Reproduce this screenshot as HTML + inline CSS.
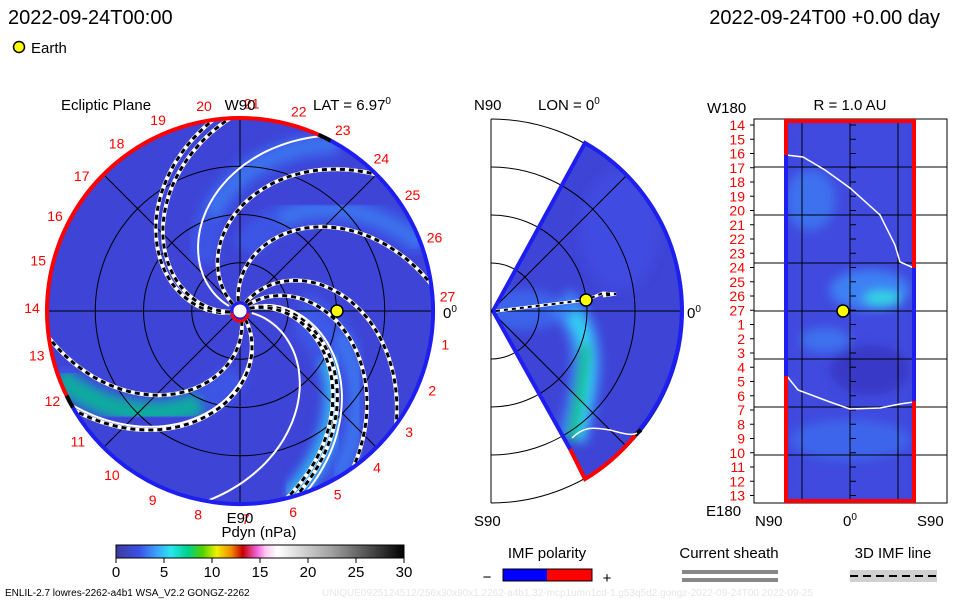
<!DOCTYPE html>
<html><head><meta charset="utf-8">
<style>
html,body{margin:0;padding:0;background:#fff;}
svg{display:block;font-family:"Liberation Sans",sans-serif;}
</style></head>
<body>
<svg id="chart" width="960" height="600" viewBox="0 0 960 600">
<defs>
  <clipPath id="eclClip"><circle cx="240" cy="311" r="193"/></clipPath>
  <clipPath id="wedgeClip"><path d="M491,311 L585,143 A192,192 0 0 1 585,479 Z"/></clipPath>
  <clipPath id="rectClip"><rect x="786" y="121" width="128" height="380"/></clipPath>
  <linearGradient id="cbar" x1="0" x2="1" y1="0" y2="0">
    <stop offset="0" stop-color="#3c3c9c"/>
    <stop offset="0.08" stop-color="#3c50e6"/>
    <stop offset="0.14" stop-color="#3ca0f8"/>
    <stop offset="0.19" stop-color="#28e6f0"/>
    <stop offset="0.25" stop-color="#00d28c"/>
    <stop offset="0.3" stop-color="#50d200"/>
    <stop offset="0.35" stop-color="#f0f000"/>
    <stop offset="0.4" stop-color="#f08c00"/>
    <stop offset="0.44" stop-color="#c80000"/>
    <stop offset="0.49" stop-color="#f064dc"/>
    <stop offset="0.52" stop-color="#ffc8f0"/>
    <stop offset="0.56" stop-color="#ffffff"/>
    <stop offset="0.75" stop-color="#a0a0a0"/>
    <stop offset="1" stop-color="#000000"/>
  </linearGradient>
  <filter id="blur"><feGaussianBlur stdDeviation="5"/></filter>
</defs>

<text x="8" y="24" font-size="20">2022-09-24T00:00</text>
<text x="940" y="24" font-size="20" text-anchor="end">2022-09-24T00 +0.00 day</text>
<circle cx="19" cy="47" r="5.5" fill="#ffff00" stroke="#000" stroke-width="1.5"/>
<text x="31" y="53" font-size="15">Earth</text>

<g id="ecl">
  <circle cx="240" cy="311" r="193" fill="#3e44d6"/>
  <g id="eclBands" clip-path="url(#eclClip)"></g>
  <g id="eclGrid"></g>
  <g id="eclSpirals" clip-path="url(#eclClip)"></g>
  <g id="eclBorder"></g>
  <circle cx="240" cy="311" r="8" fill="#fff" stroke="#1e1ef0" stroke-width="3"/>
  <path d="M232,313 A8,8 0 0 0 248,313" fill="none" stroke="#f00" stroke-width="3"/>
  <circle cx="337" cy="311" r="6" fill="#ffff00" stroke="#000" stroke-width="1.5"/>
  <g id="eclLabels" font-size="14" fill="#f00"></g>
  <text x="61" y="110" font-size="15">Ecliptic Plane</text>
  <text x="240" y="110" font-size="15" text-anchor="middle">W90</text>
  <text x="313" y="110" font-size="15">LAT = 6.97<tspan font-size="10" dy="-6">0</tspan></text>
  <text x="443" y="318" font-size="15">0<tspan font-size="10" dy="-6">0</tspan></text>
  <text x="240" y="523" font-size="15" text-anchor="middle">E90</text>
</g>

<g id="mer">
  <line x1="491" y1="119" x2="491" y2="503" stroke="#000" stroke-width="1"/>
  <g id="merArcs"></g>
  <path d="M491,311 L585,143 A192,192 0 0 1 585,479 Z" fill="#3e44d6"/>
  <g clip-path="url(#wedgeClip)" filter="url(#blur)">
    <ellipse cx="525" cy="310" rx="40" ry="20" fill="#3c6cf0" opacity="0.8"/>
    <path d="M560,300 C595,330 590,380 572,440" stroke="#3c80f4" stroke-width="30" fill="none"/>
    <path d="M572,315 C595,340 588,385 575,440" stroke="#30d0f0" stroke-width="14" fill="none"/>
    <path d="M585,345 C585,370 577,400 572,440" stroke="#00c070" stroke-width="9" fill="none"/>
    <ellipse cx="620" cy="230" rx="40" ry="60" fill="#4050e8" opacity="0.6"/>
  </g>
  <g id="merGrid" clip-path="url(#wedgeClip)"></g>
  <line x1="491" y1="311" x2="683" y2="311" stroke="#000" stroke-width="1"/>
  <path d="M493,311 L585,143 A192,192 0 0 1 637,433" fill="none" stroke="#1e1ef0" stroke-width="4"/>
  <path d="M637,433 A192,192 0 0 1 585,479 L570,449" fill="none" stroke="#f00" stroke-width="4"/>
  <path d="M635,435 L641,430" stroke="#000" stroke-width="4"/>
  <path d="M570,449 L493,311" fill="none" stroke="#1e1ef0" stroke-width="4"/>
  <path d="M572,438 C585,425 595,428 610,430 C625,434 632,436 637,433" fill="none" stroke="#fff" stroke-width="1.5"/>
  <path d="M496,311 L586,300 L603,293 L616,294 L603,296" fill="none" stroke="#fff" stroke-width="3"/>
  <path d="M496,311 L586,300 L603,293 L616,294 L603,296" fill="none" stroke="#000" stroke-width="2" stroke-dasharray="4,4"/>
  <circle cx="586" cy="300" r="6" fill="#ffff00" stroke="#000" stroke-width="1.5"/>
  <text x="474" y="110" font-size="15">N90</text>
  <text x="538" y="110" font-size="15">LON = 0<tspan font-size="10" dy="-6">0</tspan></text>
  <text x="687" y="318" font-size="15">0<tspan font-size="10" dy="-6">0</tspan></text>
  <text x="474" y="526" font-size="15">S90</text>
</g>

<g id="rpan">
  <rect x="754" y="119" width="193" height="384" fill="#fff" stroke="#000" stroke-width="1"/>
  <rect x="786" y="121" width="128" height="380" fill="#3e44d6"/>
  <g clip-path="url(#rectClip)" filter="url(#blur)">
    <rect x="786" y="121" width="128" height="380" fill="#3f50ea" opacity="0.5"/>
    <ellipse cx="810" cy="200" rx="25" ry="30" fill="#3c80f4" opacity="0.7"/>
    <ellipse cx="870" cy="290" rx="40" ry="20" fill="#3c80f4"/>
    <ellipse cx="882" cy="298" rx="18" ry="7" fill="#30d8e0"/>
    <ellipse cx="825" cy="340" rx="25" ry="12" fill="#3c80f4" opacity="0.7"/>
    <ellipse cx="850" cy="440" rx="60" ry="20" fill="#3c70f0" opacity="0.7"/>
    <ellipse cx="870" cy="370" rx="40" ry="25" fill="#3636c0" opacity="0.8"/>
  </g>
  <g id="rGrid"></g>
  <polyline points="786,155 803,157 825,170 850,188 880,215 895,245 900,262 914,268" fill="none" stroke="#fff" stroke-width="1.5"/>
  <polyline points="786,375 798,390 830,402 850,409 880,408 900,404 914,402" fill="none" stroke="#fff" stroke-width="1.5"/>
  <line x1="786" y1="119" x2="786" y2="155" stroke="#f00" stroke-width="4"/>
  <line x1="786" y1="155" x2="786" y2="376" stroke="#1e1ef0" stroke-width="4"/>
  <line x1="786" y1="376" x2="786" y2="503" stroke="#f00" stroke-width="4"/>
  <line x1="914" y1="119" x2="914" y2="268" stroke="#f00" stroke-width="4"/>
  <line x1="914" y1="268" x2="914" y2="401" stroke="#1e1ef0" stroke-width="4"/>
  <line x1="914" y1="401" x2="914" y2="503" stroke="#f00" stroke-width="4"/>
  <line x1="784" y1="121" x2="916" y2="121" stroke="#f00" stroke-width="4"/>
  <line x1="784" y1="501" x2="916" y2="501" stroke="#f00" stroke-width="4"/>
  <circle cx="843" cy="311" r="6" fill="#ffff00" stroke="#000" stroke-width="1.5"/>
  <g id="rLabels" font-size="14" fill="#f00"></g>
  <text x="707" y="113" font-size="15">W180</text>
  <text x="850" y="110" font-size="15" text-anchor="middle">R = 1.0 AU</text>
  <text x="706" y="516" font-size="15">E180</text>
  <text x="755" y="526" font-size="15">N90</text>
  <text x="850" y="526" font-size="15" text-anchor="middle">0<tspan font-size="10" dy="-6">0</tspan></text>
  <text x="917" y="526" font-size="15">S90</text>
</g>

<g id="cb">
  <text x="259" y="537" font-size="15" text-anchor="middle">Pdyn (nPa)</text>
  <rect x="116" y="545" width="288" height="13" fill="url(#cbar)" stroke="#000" stroke-width="1"/>
  <g id="cbTicks"></g>
</g>

<text x="547" y="558" font-size="15" text-anchor="middle">IMF polarity</text>
<text x="487" y="582" font-size="15" text-anchor="middle">−</text>
<rect x="503" y="569" width="44" height="12" fill="#0000ff"/>
<rect x="547" y="569" width="45" height="12" fill="#ff0000"/>
<rect x="503" y="569" width="89" height="12" fill="none" stroke="#000" stroke-width="1"/>
<text x="607" y="583" font-size="15" text-anchor="middle">+</text>

<text x="729" y="558" font-size="15" text-anchor="middle">Current sheath</text>
<rect x="682" y="570" width="96" height="4" fill="#888"/>
<rect x="682" y="578" width="96" height="4" fill="#888"/>

<text x="893" y="558" font-size="15" text-anchor="middle">3D IMF line</text>
<rect x="850" y="570" width="87" height="12" fill="#d0d0d0"/>
<line x1="850" y1="576" x2="937" y2="576" stroke="#000" stroke-width="2" stroke-dasharray="8,5"/>

<text x="5" y="596" font-size="10">ENLIL-2.7 lowres-2262-a4b1 WSA_V2.2 GONGZ-2262</text>
<text x="322" y="596" font-size="10" fill="#e6e6e6">UNIQUE0925124512/256x30x90x1.2262-a4b1.32-mcp1umn1cd-1.g53q5d2.gongz-2022-09-24T00   2022-09-25</text>

<script>
const spiralEndAngles = [-98, -93, -45, -8, 36, 54, 73, 76, 149, 172];
const sheathEndAngles = [-65, 70, 151, 100];
const bandEndAngles = [-60, -20, 60, 75, 160];
const bandLevels = [1, 1, 1, 2, 3];
const ringRadiiAU = [0.5, 1.0, 1.5, 2.0];
const carringtonLabels = ["27","1","2","3","4","5","6","7","8","9","10","11","12","13","14","15","16","17","18","19","20","21","22","23","24","25","26"];
const cbTickValues = [0, 5, 10, 15, 20, 25, 30];
const rLabels = ["14","15","16","17","18","19","20","21","22","23","24","25","26","27","1","2","3","4","5","6","7","8","9","10","11","12","13"];

const NS = "http://www.w3.org/2000/svg";
function mk(tag, attrs, parent) {
  const e = document.createElementNS(NS, tag);
  for (const k in attrs) e.setAttribute(k, attrs[k]);
  parent.appendChild(e);
  return e;
}
const CX = 240, CY = 311, R = 193;
const rScale = au => au / 2.0 * R;
function spiralPath(endDeg, rmin) {
  let d = "";
  for (let r = rmin; r <= R + 2; r += 3) {
    const a = (endDeg - 0.5 * (R - r)) * Math.PI / 180;
    d += (d ? "L" : "M") + (CX + r * Math.cos(a)).toFixed(1) + "," + (CY + r * Math.sin(a)).toFixed(1);
  }
  return d;
}

const bands = document.getElementById("eclBands");
const bandColors = {1: "#3c80f0", 2: "#30d0f0", 3: "#00c888"};
bandEndAngles.forEach((a, i) => {
  const p = mk("path", {d: spiralPath(a, 60), fill: "none", stroke: "#3c60ee", "stroke-width": 30, opacity: 0.6, filter: "url(#blur)"}, bands);
  
  
  const q = mk("path", {d: spiralPath(a, 100), fill: "none", stroke: bandColors[bandLevels[i]], "stroke-width": 10 + 4 * bandLevels[i], opacity: 0.75, filter: "url(#blur)"}, bands);
  
  
});

const grid = document.getElementById("eclGrid");
ringRadiiAU.slice(0, 3).forEach(au => {
  const c = mk("circle", {cx: CX, cy: CY, r: rScale(au), fill: "none", stroke: "#000", "stroke-width": 1}, grid);
  
  
});
[0, 45, 90, 135].forEach(deg => {
  const a = deg * Math.PI / 180;
  const l = mk("line", {x1: CX - R * Math.cos(a), y1: CY - R * Math.sin(a), x2: CX + R * Math.cos(a), y2: CY + R * Math.sin(a), stroke: "#000", "stroke-width": 1}, grid);
  
  
});

const sp = document.getElementById("eclSpirals");
sheathEndAngles.forEach(a => {
  const p = mk("path", {d: spiralPath(a, 12), fill: "none", stroke: "#fff", "stroke-width": 2}, sp);
  
  
});
spiralEndAngles.forEach(a => {
  const w = mk("path", {d: spiralPath(a, 10), fill: "none", stroke: "#fff", "stroke-width": 4}, sp);
  
  
  const b = mk("path", {d: spiralPath(a, 10), fill: "none", stroke: "#000", "stroke-width": 3, "stroke-dasharray": "5,4"}, sp);
  
  
});

const bd = document.getElementById("eclBorder");
function arc(a0, a1, r) {
  const p0 = [CX + r * Math.cos(a0 * Math.PI / 180), CY + r * Math.sin(a0 * Math.PI / 180)];
  const p1 = [CX + r * Math.cos(a1 * Math.PI / 180), CY + r * Math.sin(a1 * Math.PI / 180)];
  const large = (a1 - a0) > 180 ? 1 : 0;
  return `M${p0[0]},${p0[1]} A${r},${r} 0 ${large} 1 ${p1[0]},${p1[1]}`;
}
const redArc = mk("path", {d: arc(152, 296, R), fill: "none", stroke: "#f00", "stroke-width": 4}, bd);


const blueArc = mk("path", {d: arc(-64, 152, R), fill: "none", stroke: "#1e1ef0", "stroke-width": 4}, bd);


[-64, 152].forEach(a => {
  const m = mk("path", {d: arc(a - 2, a + 2, R), fill: "none", stroke: "#000", "stroke-width": 4}, bd);
  
  
});

const lab = document.getElementById("eclLabels");
carringtonLabels.forEach((t, i) => {
  const a = (-4 + i * (360 / 27.27)) * Math.PI / 180;
  const rr = R + 15;
  const e = mk("text", {x: (CX + rr * Math.cos(a)).toFixed(1), y: (CY + rr * Math.sin(a) + 5).toFixed(1), "text-anchor": "middle"}, lab);
  e.textContent = t;
  
  
});

const MX = 491, MY = 311, MR = 192;
const merArcs = document.getElementById("merArcs");
const merGrid = document.getElementById("merGrid");
ringRadiiAU.forEach(au => {
  const r = au / 2.0 * MR;
  const a = mk("path", {d: `M${MX},${MY - r} A${r},${r} 0 0 1 ${MX},${MY + r}`, fill: "none", stroke: "#000", "stroke-width": 1}, merArcs);
  
  
  const b = mk("path", {d: `M${MX},${MY - r} A${r},${r} 0 0 1 ${MX},${MY + r}`, fill: "none", stroke: "#000", "stroke-width": 1}, merGrid);
  
  
});
[-45, 45].forEach(deg => {
  const a = deg * Math.PI / 180;
  const l = mk("line", {x1: MX, y1: MY, x2: MX + MR * Math.cos(a), y2: MY + MR * Math.sin(a), stroke: "#000", "stroke-width": 1}, merGrid);
  
  
});

const rg = document.getElementById("rGrid");
[167, 215, 263, 311, 359, 407, 455].forEach(y => {
  const l = mk("line", {x1: 754, y1: y, x2: 947, y2: y, stroke: "#000", "stroke-width": 1}, rg);
  
  
});
[802, 850, 898].forEach(x => {
  const l = mk("line", {x1: x, y1: 119, x2: x, y2: 503, stroke: "#000", "stroke-width": 1}, rg);
  
  
});
const rl = document.getElementById("rLabels");
rLabels.forEach((t, i) => {
  const y = 125 + i * 14.25;
  const e = mk("text", {x: 745, y: y + 5, "text-anchor": "end"}, rl);
  e.textContent = t;
  
  
  const tk = mk("line", {x1: 750, y1: y, x2: 754, y2: y, stroke: "#000"}, rg);
  
  
  const ck = mk("line", {x1: 850, y1: y, x2: 856, y2: y, stroke: "#000"}, rg);
  
  
});

const cbt = document.getElementById("cbTicks");
const cbX = v => 116 + v / 30 * 288;
cbTickValues.forEach(v => {
  const l = mk("line", {x1: cbX(v), y1: 558, x2: cbX(v), y2: 563, stroke: "#000"}, cbt);
  
  
  const t = mk("text", {x: cbX(v), y: 577, "font-size": 15, "text-anchor": "middle"}, cbt);
  t.textContent = v;
  
  
});
</script>
</svg>
</body></html>
